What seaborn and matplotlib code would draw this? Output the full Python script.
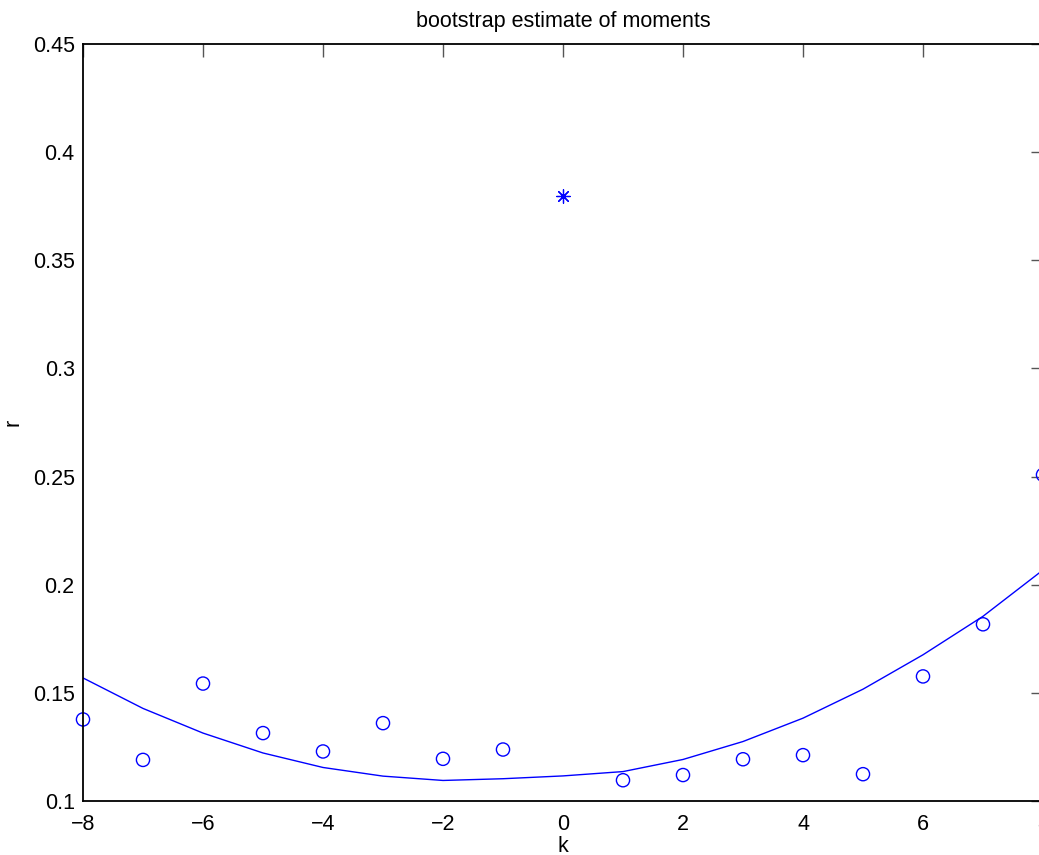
import numpy as np
import pandas as pd
import matplotlib
matplotlib.use("Agg")
import matplotlib.pyplot as plt
import seaborn as sns

# bootstrap moments
k = [-8, -7, -6, -5, -4, -3, -2, -1, 0, 1, 2, 3, 4, 5, 6, 7, 8]
r_boot = [0.1377, 0.119, 0.1543, 0.1314, 0.1229, 0.136, 0.1195, 0.1238,
          np.nan, 0.1096, 0.112, 0.1193, 0.1212, 0.1124, 0.1576, 0.1817, 0.2508]
r_fit = [0.1569, 0.1428, 0.1314, 0.1222, 0.1155, 0.1115, 0.1095, 0.1103,
         0.1116, 0.1136, 0.1192, 0.1275, 0.1383, 0.1517, 0.1676, 0.1854, 0.2068]
k_star = [0]
r_star = [0.3795]

df = pd.DataFrame({"k": k, "boot": r_boot, "fit": r_fit})
df_star = pd.DataFrame({"k": k_star, "r": r_star})

sns.set_style("white")
plt.rcParams["font.family"] = ["Liberation Sans", "DejaVu Sans"]
plt.rcParams["text.color"] = "black"
plt.rcParams["axes.labelcolor"] = "black"
plt.rcParams["xtick.labelcolor"] = "black"
plt.rcParams["ytick.labelcolor"] = "black"

fig = plt.figure(figsize=(10.39, 8.55), dpi=100)
ax = fig.add_axes([83 / 1039, 54 / 855, 960 / 1039, 757 / 855])

sns.lineplot(data=df, x="k", y="fit", ax=ax, color="blue", linewidth=1.0)
sns.scatterplot(data=df.dropna(), x="k", y="boot", ax=ax, marker="o",
                s=90, facecolor="none", edgecolor="blue", linewidth=1.0,
                clip_on=False)
sns.scatterplot(data=df_star, x="k", y="r", ax=ax, marker=(8, 2, 0),
                s=95, color="blue", linewidth=0.9)

ax.set_xlim(-8, 8)
ax.set_ylim(0.1, 0.45)
ax.set_xticks(np.arange(-8, 9, 2))
ax.set_yticks([0.1, 0.15, 0.2, 0.25, 0.3, 0.35, 0.4, 0.45])
ax.set_yticklabels(["0.1", "0.15", "0.2", "0.25", "0.3", "0.35", "0.4", "0.45"])
ax.set_xticklabels([str(v).replace("-", "\u2212") for v in range(-8, 9, 2)])
ax.tick_params(direction="in", length=9, width=1.0, color="#555555",
               labelsize=15.5, labelcolor="black", top=True, right=True, pad=6)
ax.tick_params(axis="x", pad=9)
for s in ax.spines.values():
    s.set_color("black")
    s.set_linewidth(1.3)

ax.set_xlabel("k", fontsize=15.5, labelpad=1, color="black")
ax.set_ylabel("r", fontsize=15.5, color="black")
ax.yaxis.set_label_coords(-0.062, 0.5)
ax.set_title("bootstrap estimate of moments", fontsize=15.5, pad=12, color="black")

fig.savefig("out.png", dpi=100)
